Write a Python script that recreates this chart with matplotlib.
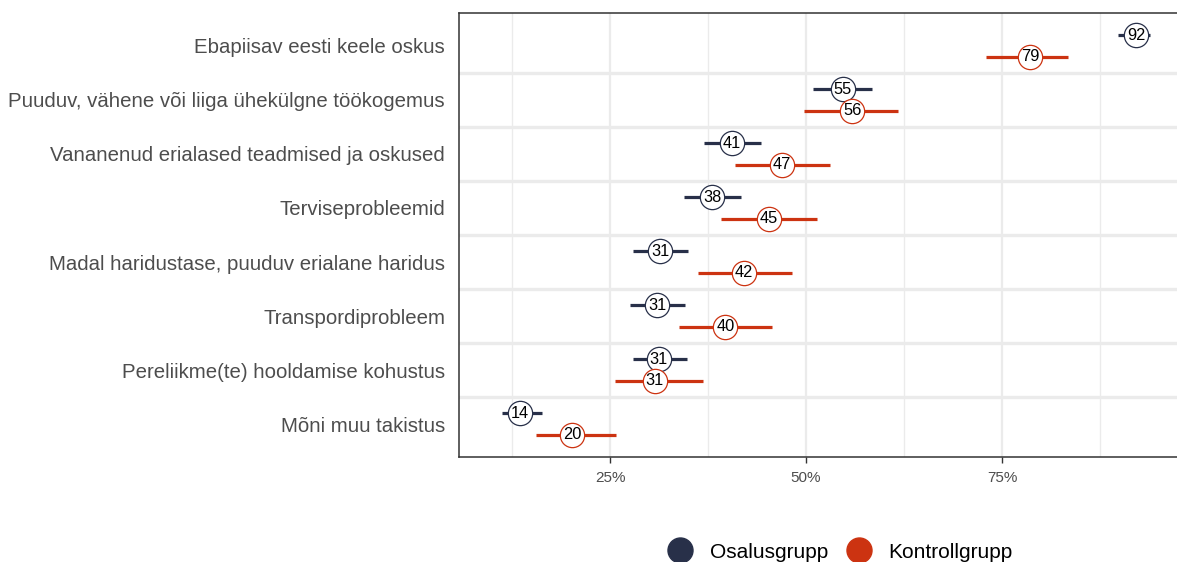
import matplotlib
matplotlib.use("Agg")
import matplotlib.pyplot as plt
from matplotlib.lines import Line2D
import numpy as np

plt.rcParams['font.family'] = ['Liberation Sans', 'DejaVu Sans']

categories = [
    "Ebapiisav eesti keele oskus",
    "Puuduv, vähene või liiga ühekülgne töökogemus",
    "Vananenud erialased teadmised ja oskused",
    "Terviseprobleemid",
    "Madal haridustase, puuduv erialane haridus",
    "Transpordiprobleem",
    "Pereliikme(te) hooldamise kohustus",
    "Mõni muu takistus",
]
groups = ["Osalusgrupp", "Kontrollgrupp"]

osalus_val = [92.1, 54.7, 40.5, 38.0, 31.4, 31.0, 31.2, 13.5]
osalus_lo = [89.8, 50.9, 37.0, 34.4, 27.9, 27.6, 27.9, 11.2]
osalus_hi = [93.9, 58.4, 44.3, 41.7, 34.9, 34.6, 34.8, 16.3]
osalus_lab = [92, 55, 41, 38, 31, 31, 31, 14]

kontroll_val = [78.6, 55.9, 46.9, 45.3, 42.1, 39.7, 30.7, 20.2]
kontroll_lo = [73.0, 49.7, 40.9, 39.2, 36.2, 33.8, 25.6, 15.6]
kontroll_hi = [83.4, 61.7, 53.1, 51.4, 48.2, 45.7, 36.9, 25.8]
kontroll_lab = [79, 56, 47, 45, 42, 40, 31, 20]

colors = ["#283049", "#cc3311"]

W, H = 1177, 562
fig = plt.figure(figsize=(W / 100, H / 100), dpi=100)
ax = fig.add_axes([459 / W, 1 - 457 / H, 1 - 459 / W, (457 - 13) / H])

n = len(categories)
ypos = np.arange(n, 0, -1)  # top to bottom
offset = 0.2

series = [
    (osalus_val, osalus_lo, osalus_hi, osalus_lab, +offset),
    (kontroll_val, kontroll_lo, kontroll_hi, kontroll_lab, -offset),
]

# grid
for xv in [12.5, 37.5, 62.5, 87.5]:
    ax.axvline(xv, color="#ebebeb", lw=1.0, zorder=0)
for xv in [25, 50, 75]:
    ax.axvline(xv, color="#ebebeb", lw=1.6, zorder=0)
for yb in np.arange(1.5, n, 1.0):
    ax.axhline(yb, color="#ebebeb", lw=2.4, zorder=0)

for (vals, lo, hi, labs, off), col in zip(series, colors):
    y = ypos + off
    ax.hlines(y, lo, hi, color=col, lw=2.3, zorder=2)
    ax.plot(vals, y, 'o', ms=17.5, mfc='white', mec=col, mew=0.9, zorder=3, ls='none')
    for xv, yv, lb in zip(vals, y, labs):
        ax.text(xv, yv, str(lb), ha='center', va='center', fontsize=11.8,
                color='black', zorder=4)

ax.set_xlim(5.74, 97.3)
ax.set_ylim(0.39, 8.61)
ax.set_yticks(ypos)
ax.set_yticklabels(categories, fontsize=14.7, color="#4d4d4d")
ax.set_xticks([25, 50, 75])
ax.set_xticklabels(["25%", "50%", "75%"], fontsize=11, color="#4d4d4d")
ax.tick_params(axis='y', length=0, pad=10)
ax.tick_params(axis='x', length=4, color="#333333", width=1.0, pad=6)

for s in ['left', 'bottom', 'top']:
    ax.spines[s].set_color("#333333")
    ax.spines[s].set_linewidth(1.1)
ax.spines['right'].set_visible(False)

handles = [Line2D([], [], marker='o', ls='none', ms=18, mfc=c, mec=c) for c in colors]
fig.legend(handles, groups, loc='center', bbox_to_anchor=(836 / W, 1 - 552 / H),
           ncol=2, frameon=False, fontsize=15.0, handletextpad=0.45,
           columnspacing=0.45, borderaxespad=0)

fig.savefig("out.png", dpi=100)
